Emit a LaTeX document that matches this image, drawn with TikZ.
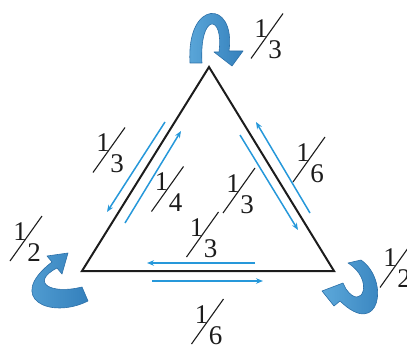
\documentclass[tikz,border=0pt]{standalone}
\usepackage{fontspec}
\setmainfont{Liberation Serif}
\usetikzlibrary{arrows.meta}
\definecolor{edgeblue}{RGB}{38,152,218}
\definecolor{bigblue}{RGB}{66,146,204}
\definecolor{bigleft}{RGB}{92,168,218}
\definecolor{bigright}{RGB}{52,128,188}
\definecolor{bigedge}{RGB}{44,112,168}
\definecolor{triline}{RGB}{28,28,28}
\tikzset{
  tri/.style={draw=triline,line width=2pt,line join=miter},
  flow/.style={draw=edgeblue,line width=1.5pt,-{Stealth[length=7pt,width=5.5pt]}},
  loopy/.style={left color=bigleft,right color=bigright,draw=bigedge,line width=0.6pt,line join=round},
  digit/.style={inner sep=0pt,font=\fontsize{27}{27}\selectfont,text=triline},
  slashline/.style={draw=triline,line width=1.1pt}
}
\newcommand\slfrac[5]{%
  \node[digit] (#1n) at ({#2-6},{#3-7}) {#4};
  \node[digit] (#1d) at ({#2+8},{#3+14}) {#5};
  \coordinate (#1a) at ({#2-16},{#3+22.5});
  \coordinate (#1b) at ({#2+16},{#3-22.5});
  \draw[slashline] (#1a) -- (#1b);
}
\begin{document}
\begin{tikzpicture}[x=1pt,y=-1pt]
\useasboundingbox (0,0) rectangle (407,345);
% triangle
\coordinate (T) at (209,67);
\coordinate (L) at (82,271);
\coordinate (R) at (334,271);
\draw[tri] (T) -- (L) -- (R) -- cycle;
% thin blue arrows
\coordinate (lo1) at (165,122); \coordinate (lo2) at (107,212);
\coordinate (li1) at (125,223); \coordinate (li2) at (181,131);
\coordinate (ro1) at (310,213); \coordinate (ro2) at (256,122);
\coordinate (ri1) at (240,135); \coordinate (ri2) at (298,230);
\coordinate (bi1) at (255,263); \coordinate (bi2) at (147,263);
\coordinate (bo1) at (152,281); \coordinate (bo2) at (263,281);
\draw[flow] (lo1) -- (lo2);
\draw[flow] (li1) -- (li2);
\draw[flow] (ro1) -- (ro2);
\draw[flow] (ri1) -- (ri2);
\draw[flow] (bi1) -- (bi2);
\draw[flow] (bo1) -- (bo2);
% big self-loop arrows
\path[loopy] (190,63) .. controls (186,-1) and (236,-1) .. (229,51)
  -- (243,51) -- (232,66) -- (214,52) -- (219,52)
  .. controls (224,13) and (199,13) .. (202,63) -- cycle;
\path[loopy] (88,301) .. controls (50,320) and (5,298) .. (52,262)
  -- (47,256) -- (68,253) -- (62,274) -- (57,268)
  .. controls (30,282) and (50,295) .. (82,287) -- cycle;
\path[loopy] (361,260) .. controls (390,280) and (380,340) .. (340,301)
  -- (334,306) -- (322,291) -- (343,283) -- (346,289)
  .. controls (362,312) and (375,280) .. (348,263) -- cycle;
% fractions
\slfrac{ftop}{267}{36}{1}{3}
\slfrac{fleft}{109}{150}{1}{3}
\slfrac{fq}{167.5}{189}{1}{4}
\slfrac{fcu}{239}{190.5}{1}{3}
\slfrac{fcl}{202.5}{234.5}{1}{3}
\slfrac{fright}{309}{159.5}{1}{6}
\slfrac{fhl}{26}{238.5}{1}{2}
\slfrac{fhr}{396}{265}{1}{2}
\slfrac{fbot}{207.5}{321.5}{1}{6}
\end{tikzpicture}
\end{document}
